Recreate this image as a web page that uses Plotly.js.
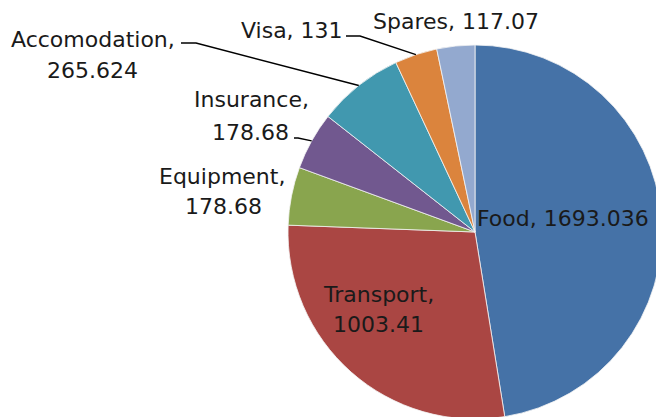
<!DOCTYPE html>
<html>
<head>
<meta charset="utf-8">
<script src="https://cdn.plot.ly/plotly-3.0.1.min.js"></script>
<style>
html,body{margin:0;padding:0;overflow:hidden;background:#fff;width:656px;height:417px;}
#chart{width:662px;height:419px;}
</style>
</head>
<body>
<div id="chart"></div>
<script>
// ---- data ----
const categories = ["Food", "Transport", "Equipment", "Insurance", "Accomodation", "Visa", "Spares"];
const values = [1693.036, 1003.41, 178.68, 178.68, 265.624, 131, 117.07];
const valueLabels = ["1693.036", "1003.41", "178.68", "178.68", "265.624", "131", "117.07"];
const colors = ["#4572A7", "#AA4643", "#89A54E", "#71588F", "#4198AF", "#DB843D", "#93A9CF"];

// ---- layout geometry (pixels) ----
const W = 662, H = 419;
const pieLeft = 288, pieTop = 45, pieSize = 374;
const cx = pieLeft + pieSize / 2, cy = pieTop + pieSize / 2, R = pieSize / 2;
const px = x => x / W;
const py = y => 1 - y / H;

// mid-angle edge point of slice i (clockwise from 12 o'clock)
const total = values.reduce((a, b) => a + b, 0);
function edgePoint(i) {
  let cum = 0;
  for (let k = 0; k < i; k++) cum += values[k];
  const mid = (cum + values[i] / 2) / total * 2 * Math.PI;
  return [cx + R * Math.sin(mid), cy - R * Math.cos(mid)];
}

const font = {family: "DejaVu Sans", size: 22, color: "#1a1a1a"};
// label lines: [category index, line text, x, y]
const labelLines = [
  [0, categories[0] + ", " + valueLabels[0], 563, 218],
  [1, categories[1] + ",", 379, 294],
  [1, valueLabels[1], 378, 324],
  [2, categories[2] + ",", 222, 176],
  [2, valueLabels[2], 223, 206],
  [3, categories[3] + ",", 251, 100],
  [3, valueLabels[3], 250, 132],
  [4, categories[4] + ",", 93, 39],
  [4, valueLabels[4], 92, 71],
  [5, categories[5] + ", " + valueLabels[5], 292, 31],
  [6, categories[6] + ", " + valueLabels[6], 456, 21]
];
const annotations = labelLines.map(l => ({
  text: l[1], x: px(l[2]), y: py(l[3]), xref: "paper", yref: "paper",
  xanchor: "center", yanchor: "middle", showarrow: false, font: font
}));

// leader lines: [category index, start x, start y, elbow x, elbow y]
const leaders = [
  [4, 181, 43, 196, 43],
  [5, 346, 36, 360, 36],
  [3, 294, 138, 298, 138]
];
const shapes = leaders.map(l => {
  const e = edgePoint(l[0]);
  return {
    type: "path", xref: "paper", yref: "paper",
    path: `M ${px(l[1])},${py(l[2])} L ${px(l[3])},${py(l[4])} L ${px(e[0])},${py(e[1])}`,
    line: {color: "#000000", width: 1.4}
  };
});

const trace = {
  type: "pie",
  labels: categories,
  values: values,
  sort: false,
  direction: "clockwise",
  rotation: 0,
  textinfo: "none",
  hoverinfo: "label+value",
  marker: {colors: colors, line: {color: "#f4f4f4", width: 0.8}},
  domain: {x: [px(pieLeft), px(pieLeft + pieSize)], y: [py(pieTop + pieSize), py(pieTop)]},
  showlegend: false
};

const layout = {
  width: W, height: H,
  margin: {l: 0, r: 0, t: 0, b: 0},
  paper_bgcolor: "#ffffff",
  plot_bgcolor: "#ffffff",
  showlegend: false,
  annotations: annotations,
  shapes: shapes
};

Plotly.newPlot("chart", [trace], layout, {displayModeBar: false, staticPlot: true});
</script>
</body>
</html>
